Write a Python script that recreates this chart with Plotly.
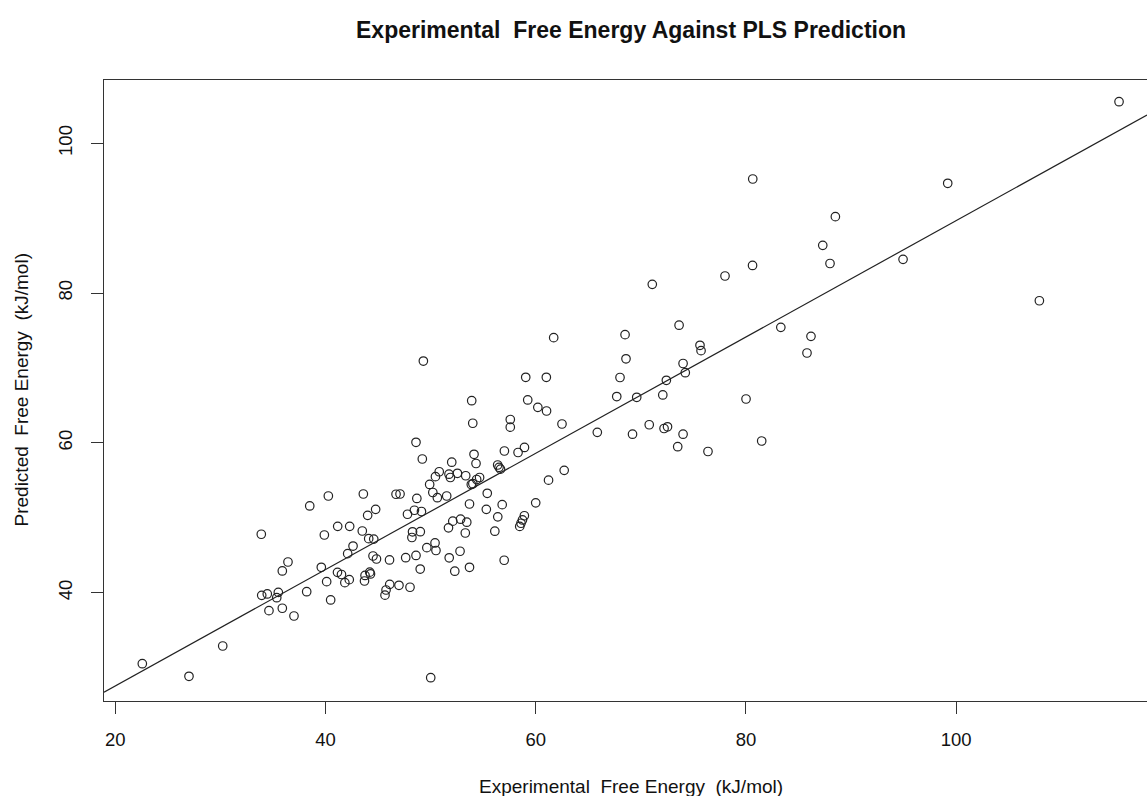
import numpy as np
import plotly.graph_objects as go

# Experimental free energy (kJ/mol)
experimental = [22.57, 27.01, 30.22, 33.89, 38.50, 33.93, 34.46, 35.36, 35.51, 34.62,
                35.89, 35.89, 36.43, 37.00, 38.21, 39.60, 39.89, 40.11, 40.49, 41.16,
                42.30, 43.50, 44.01, 44.77, 42.62, 42.11, 44.11, 44.59, 44.52, 44.85,
                46.09, 41.14, 41.52, 41.84, 42.26, 43.76, 44.21, 44.28, 43.71, 46.11,
                45.76, 45.66, 46.99, 48.04, 49.31, 59.05, 61.01, 53.91, 59.24, 60.20,
                61.03, 54.01, 57.58, 57.58, 48.61, 49.21, 52.01, 54.13, 54.32, 57.02,
                58.32, 58.93, 56.38, 56.51, 56.65, 61.22, 50.82, 51.75, 52.55, 53.34,
                51.88, 50.46, 49.91, 50.21, 50.64, 51.53, 53.87, 54.02, 54.38, 54.66,
                55.39, 53.70, 56.81, 55.30, 56.39, 56.11, 60.00, 58.92, 58.74, 58.60,
                58.48, 57.00, 48.69, 48.46, 49.13, 47.80, 46.71, 47.09, 43.60, 40.27,
                47.63, 48.61, 48.28, 48.22, 49.02, 49.64, 50.42, 50.51, 51.77, 52.80,
                49.01, 52.30, 53.70, 51.70, 52.11, 52.85, 53.44, 53.30, 50.01, 61.71,
                68.50, 73.64, 75.63, 75.73, 83.32, 68.59, 68.02, 74.02, 74.23, 72.43,
                67.71, 69.61, 72.09, 80.01, 62.50, 65.86, 69.21, 70.80, 72.21, 72.54,
                74.02, 73.51, 76.39, 81.50, 62.71, 71.09, 78.01, 80.63, 87.31, 88.00,
                86.19, 85.81, 115.50, 80.65, 99.20, 88.51, 94.95, 107.92]

# PLS predicted free energy (kJ/mol)
predicted = [30.52, 28.84, 32.88, 47.80, 51.58, 39.65, 39.83, 39.33, 40.05, 37.60,
             37.92, 42.90, 44.10, 36.89, 40.13, 43.39, 47.70, 41.47, 39.03, 48.86,
             48.86, 48.24, 50.33, 51.13, 46.23, 45.21, 47.21, 47.16, 44.90, 44.50,
             44.37, 42.72, 42.43, 41.34, 41.74, 42.30, 42.74, 42.50, 41.56, 41.12,
             40.36, 39.67, 40.99, 40.73, 70.93, 68.76, 68.76, 65.63, 65.73, 64.75,
             64.26, 62.62, 63.12, 62.10, 60.08, 57.85, 57.42, 58.48, 57.25, 58.92,
             58.72, 59.39, 57.05, 56.74, 56.49, 55.02, 56.15, 55.82, 55.94, 55.61,
             55.38, 55.49, 54.45, 53.38, 52.68, 52.91, 54.45, 54.55, 55.11, 55.38,
             53.27, 51.84, 51.75, 51.13, 50.13, 48.21, 52.00, 50.27, 49.71, 49.27,
             48.85, 44.33, 52.58, 51.01, 50.84, 50.47, 53.14, 53.18, 53.18, 52.91,
             44.67, 44.97, 48.13, 47.37, 48.14, 46.01, 46.64, 45.63, 44.66, 45.53,
             43.16, 42.87, 43.39, 48.66, 49.55, 49.81, 49.41, 47.97, 28.65, 74.05,
             74.45, 75.71, 73.03, 72.31, 75.43, 71.23, 68.73, 70.60, 69.37, 68.36,
             66.19, 66.09, 66.40, 65.86, 62.52, 61.41, 61.16, 62.42, 61.92, 62.15,
             61.16, 59.49, 58.85, 60.25, 56.34, 81.17, 82.28, 83.69, 86.38, 83.95,
             74.23, 72.00, 105.55, 95.23, 94.66, 90.20, 84.51, 78.98]

# Fitted line (intercept, slope)
fit_intercept = 12.03
fit_slope = 0.7764

x_ticks = [20, 40, 60, 80, 100]
y_ticks = [40, 60, 80, 100]
x_range = [18.925, 118.16]
y_range = [25.54, 108.45]

title_text = "Experimental\u00a0\u00a0Free Energy Against PLS Prediction"
xlabel_text = "Experimental\u00a0\u00a0Free Energy\u00a0\u00a0(kJ/mol)"
ylabel_text = "Predicted\u00a0\u00a0Free Energy\u00a0\u00a0(kJ/mol)"

FONT = "Liberation Sans, Arial, Helvetica, sans-serif"

line_x = np.array(x_range)
line_y = fit_intercept + fit_slope * line_x

fig = go.Figure()
fig.add_trace(go.Scatter(
    x=line_x, y=line_y, mode="lines",
    line=dict(color="#222222", width=1.2),
    hoverinfo="skip", showlegend=False))
fig.add_trace(go.Scatter(
    x=experimental, y=predicted, mode="markers",
    marker=dict(symbol="circle-open", size=8.5, color="#222222",
                line=dict(width=1.2, color="#222222")),
    showlegend=False))

axis_common = dict(
    showgrid=False, zeroline=False, showline=True,
    linecolor="#333333", linewidth=1.2,
    ticks="outside", ticklen=12, tickwidth=1.2, tickcolor="#333333",
    tickfont=dict(family=FONT, size=18.5, color="#111111"),
)

fig.update_layout(
    width=1147, height=796, autosize=False,
    margin=dict(l=104, r=0, t=80, b=95, pad=0),
    paper_bgcolor="white", plot_bgcolor="white",
    xaxis=dict(range=x_range, tickmode="array", tickvals=x_ticks,
               mirror=True, ticklabelstandoff=10, **axis_common),
    yaxis=dict(range=y_range, tickmode="array", tickvals=y_ticks,
               tickangle=-90, ticklabelstandoff=12, **axis_common),
    annotations=[
        dict(text="<b>" + title_text + "</b>", xref="paper", yref="paper",
             x=0.5053, y=1, yshift=50, xanchor="center", yanchor="middle",
             showarrow=False, font=dict(family=FONT, size=23, color="#111111")),
        dict(text=xlabel_text, xref="paper", yref="paper",
             x=0.5053, y=0, yshift=-85, xanchor="center", yanchor="middle",
             showarrow=False, font=dict(family=FONT, size=19, color="#111111")),
        dict(text=ylabel_text, xref="paper", yref="paper",
             x=0, y=0.5, xshift=-83, xanchor="center", yanchor="middle",
             textangle=-90,
             showarrow=False, font=dict(family=FONT, size=19, color="#111111")),
    ],
)

fig.write_html("out.html")
